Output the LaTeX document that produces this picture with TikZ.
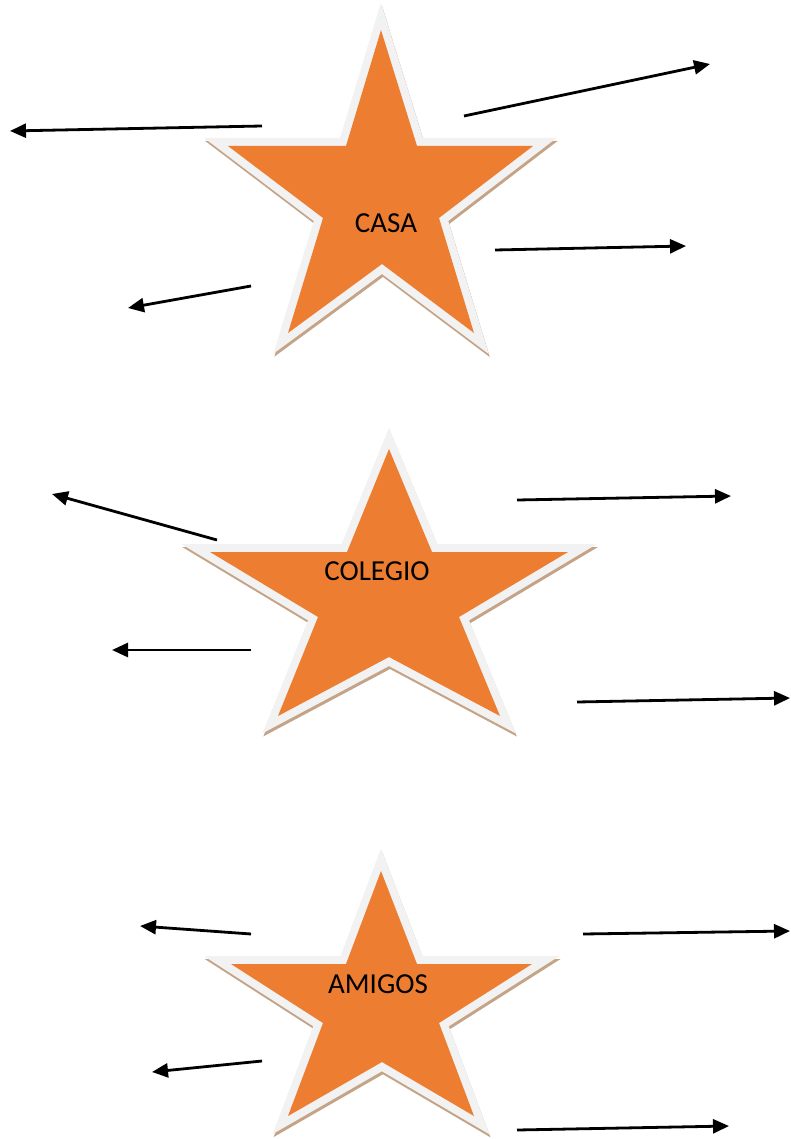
\documentclass[tikz,border=0pt]{standalone}
\usepackage{fontspec}
\setmainfont{Carlito}
\usetikzlibrary{arrows.meta}
\definecolor{starorange}{HTML}{ED7D31}
\definecolor{starrimgray}{HTML}{F2F2F2}
\definecolor{starshade}{HTML}{C4A386}
\tikzset{
  starshadow/.style={draw=starshade, line width=16pt, line join=miter},
  starrim/.style={draw=starrimgray, line width=16pt, line join=miter},
  starfill/.style={fill=starorange},
  starlabel/.style={anchor=base, inner sep=0pt, font=\fontsize{29}{33}\selectfont},
  pointer/.style={line width=2.8pt, -{Triangle[length=16pt,width=14pt]}},
}
% a five-pointed star: shadow, light rim, orange body
\newcommand\orangestar[1]{%
  \draw[starshadow, shift={(1,3)}] #1 -- cycle;
  \draw[starrim] #1 -- cycle;
  \fill[starfill] #1 -- cycle;}
\begin{document}
\begin{tikzpicture}[x=1pt,y=-1pt]
\useasboundingbox (0,0) rectangle (790,1139);

% stars
\orangestar{(381,30) -- (417,146) -- (533,146) -- (439,218) -- (474,333) -- (382,264) -- (288,333) -- (323,218) -- (228,146) -- (346,146)}
\orangestar{(389,449) -- (432,552) -- (568,552) -- (459,617) -- (500,716) -- (389,657) -- (278,716) -- (318,617) -- (210,552) -- (347,552)}
\orangestar{(381,871) -- (417,964) -- (532,964) -- (439,1023) -- (474,1116) -- (382,1062) -- (288,1116) -- (323,1023) -- (231,964) -- (346,964)}

% labels
\node[starlabel] (casa) at (386,233) {CASA};
\node[starlabel] (colegio) at (377,580) {COLEGIO};
\node[starlabel] (amigos) at (378,993) {AMIGOS};

% arrow ends around CASA
\coordinate (c1s) at (262,126);  \coordinate (c1e) at (10,131);
\coordinate (c2s) at (464,116);  \coordinate (c2e) at (710,64);
\coordinate (c3s) at (251,286);  \coordinate (c3e) at (128,308);
\coordinate (c4s) at (495,250);  \coordinate (c4e) at (686,246);
% arrow ends around COLEGIO
\coordinate (g1s) at (217,540);  \coordinate (g1e) at (52,494);
\coordinate (g2s) at (517,500);  \coordinate (g2e) at (731,496);
\coordinate (g3s) at (251,650);  \coordinate (g3e) at (112,650);
\coordinate (g4s) at (577,702);  \coordinate (g4e) at (790,698);
% arrow ends around AMIGOS
\coordinate (a1s) at (251,934);  \coordinate (a1e) at (140,926);
\coordinate (a2s) at (262,1061); \coordinate (a2e) at (152,1072);
\coordinate (a3s) at (583,934);  \coordinate (a3e) at (790,931);
\coordinate (a4s) at (517,1130); \coordinate (a4e) at (729,1126);

\foreach \p in {c1,c2,c3,c4,g1,g2,g3,g4,a1,a2,a3,a4}
  \draw[pointer] (\p s) -- (\p e);
\end{tikzpicture}
\end{document}
